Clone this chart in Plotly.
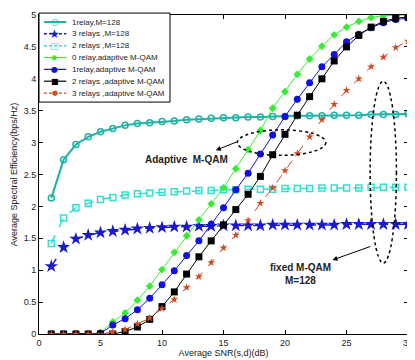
import plotly.graph_objects as go

snr = list(range(1, 31))

relay1_m128 = [2.13, 2.73, 2.97, 3.09, 3.17, 3.22, 3.27, 3.30, 3.31, 3.33, 3.34, 3.36, 3.37, 3.38, 3.39,
               3.39, 3.40, 3.40, 3.41, 3.41, 3.42, 3.42, 3.42, 3.43, 3.43, 3.43, 3.44, 3.44, 3.44, 3.45]
relay3_m128 = [1.06, 1.36, 1.49, 1.55, 1.59, 1.61, 1.63, 1.65, 1.66, 1.67, 1.68, 1.68, 1.69, 1.69, 1.70,
               1.70, 1.70, 1.70, 1.71, 1.71, 1.71, 1.71, 1.71, 1.71, 1.72, 1.72, 1.72, 1.72, 1.72, 1.72]
relay2_m128 = [1.42, 1.82, 1.98, 2.05, 2.11, 2.14, 2.18, 2.20, 2.21, 2.22, 2.23, 2.24, 2.25, 2.25, 2.26,
               2.26, 2.27, 2.27, 2.27, 2.28, 2.28, 2.28, 2.29, 2.29, 2.29, 2.29, 2.30, 2.30, 2.30, 2.30]
relay0_adapt = [0, 0, 0, 0, 0.02, 0.19, 0.33, 0.53, 0.75, 1.01, 1.28, 1.54, 1.79, 2.04, 2.29,
                2.59, 2.89, 3.19, 3.54, 3.80, 4.07, 4.31, 4.51, 4.69, 4.81, 4.90, 4.96, 4.99, 5.0, 5.0]
relay1_adapt = [0, 0, 0, 0, 0.01, 0.14, 0.24, 0.38, 0.56, 0.77, 0.99, 1.23, 1.46, 1.72, 1.98,
                2.26, 2.52, 2.82, 3.12, 3.41, 3.68, 3.94, 4.19, 4.38, 4.58, 4.70, 4.80, 4.88, 4.93, 4.95]
relay2_adapt = [0, 0, 0, 0, 0, 0.0, 0.04, 0.11, 0.23, 0.43, 0.66, 0.94, 1.21, 1.46, 1.71,
                1.95, 2.19, 2.47, 2.81, 3.13, 3.43, 3.72, 4.00, 4.28, 4.50, 4.68, 4.81, 4.90, 4.95, 4.97]
relay3_adapt = [0, 0, 0, 0, 0, 0.03, 0.07, 0.16, 0.25, 0.40, 0.54, 0.73, 0.90, 1.12, 1.35,
                1.55, 1.78, 2.05, 2.29, 2.56, 2.83, 3.09, 3.36, 3.60, 3.82, 4.00, 4.19, 4.34, 4.49, 4.59]

series_names = ["1relay,M=128", "3 relays ,M=128", "2 relays ,M=128", "0 relay,adaptive M-QAM",
                "1relay,adaptive M-QAM", "2 relays ,adaptive M-QAM", "3 relays ,adaptive M-QAM"]
series_values = [relay1_m128, relay3_m128, relay2_m128, relay0_adapt, relay1_adapt, relay2_adapt, relay3_adapt]

# styles: color, dash, marker symbol, marker size, line width, legend glyph
styles = [
    ("#1fb3a6", "solid", "circle-open", 6, 2, "○"),
    ("#1a1acc", "dash", "star", 10, 1.5, "★"),
    ("#33e0d0", "dash", "square-open", 6, 1.5, "□"),
    ("#33ee33", "solid", "diamond", 6, 1, "◆"),
    ("#1010e0", "solid", "circle", 7, 1, "●"),
    ("#000000", "solid", "square", 7, 1, "■"),
    ("#d04a22", "dash", "star", 6, 1, "●"),
]

fig = go.Figure()
for name, ys, (color, dash, sym, size, w, _) in zip(series_names, series_values, styles):
    fig.add_trace(go.Scatter(
        x=snr, y=ys, name=name, mode="lines+markers", showlegend=False,
        line=dict(color=color, dash=dash, width=w),
        marker=dict(symbol=sym, size=size, color=color,
                    line=dict(color=color, width=1.5 if "open" in sym else 0)),
    ))

axis_common = dict(showline=True, linecolor="black", linewidth=1, mirror="ticks",
                   ticks="inside", ticklen=4, tickcolor="black", showgrid=False,
                   zeroline=False, tickfont=dict(size=9, color="#222"),
                   ticklabeloverflow="allow")

fig.update_xaxes(range=[0, 30], dtick=5, tick0=0,
                 title=dict(text="Average SNR(s,d)(dB)", font=dict(size=9, color="#222"), standoff=1),
                 **axis_common)
fig.update_yaxes(range=[0, 5], dtick=0.5, tick0=0,
                 title=dict(text="Average Spectral Efficiency(bps/Hz)", font=dict(size=9, color="#222"), standoff=4),
                 **axis_common)

# annotation ellipses and arrows
fig.add_shape(type="circle", xref="x", yref="y", x0=16.12, x1=23.32, y0=2.80, y1=3.20,
              line=dict(color="black", dash="dot", width=1.5))
fig.add_shape(type="circle", xref="x", yref="y", x0=26.92, x1=29.06, y0=1.11, y1=3.96,
              line=dict(color="black", dash="dot", width=1.5))
fig.add_annotation(x=14.38, y=2.88, ax=16.2, ay=3.02, axref="x", ayref="y", xref="x", yref="y",
                   text="", showarrow=True, arrowhead=2, arrowsize=1, arrowwidth=1, arrowcolor="black")
fig.add_annotation(x=23.86, y=1.16, ax=27.06, ay=1.38, axref="x", ayref="y", xref="x", yref="y",
                   text="", showarrow=True, arrowhead=2, arrowsize=1, arrowwidth=1, arrowcolor="black")
fig.add_annotation(x=12.0, y=2.73, text="<b>Adaptive  M-QAM</b>", showarrow=False,
                   font=dict(size=10, color="#222"))
fig.add_annotation(x=21.3, y=1.04, text="<b>fixed M-QAM</b>", showarrow=False,
                   font=dict(size=10, color="#222"))
fig.add_annotation(x=21.3, y=0.84, text="<b>M=128</b>", showarrow=False,
                   font=dict(size=10, color="#222"))

# custom compact legend (paper coordinates)
fig.add_shape(type="rect", xref="paper", yref="paper", x0=0.0, x1=0.355, y0=0.727, y1=1.006,
              line=dict(color="black", width=1), fillcolor="white", layer="above")
row0, step = 0.978, 0.0371
for i, (name, (color, dash, sym, size, w, glyph)) in enumerate(zip(series_names, styles)):
    yy = row0 - i * step
    fig.add_shape(type="line", xref="paper", yref="paper", x0=0.0134, x1=0.074, y0=yy, y1=yy,
                  line=dict(color=color, dash=dash if dash != "dash" else "3px,2px",
                            width=max(w, 1.2)), layer="above")
    gsize = {"○": 9, "★": 12, "□": 9, "◆": 8, "●": 8, "■": 8}.get(glyph, 8)
    if i == 6:
        gsize = 7
    fig.add_annotation(x=0.0427, y=yy, xref="paper", yref="paper", text=glyph, showarrow=False,
                       font=dict(size=gsize, color=color, family="DejaVu Sans"),
                       xanchor="center", yanchor="middle")
    fig.add_annotation(x=0.0846, y=yy, xref="paper", yref="paper", text=name, showarrow=False,
                       font=dict(size=8, color="#222"), xanchor="left", yanchor="middle")

fig.update_layout(
    width=407, height=352,
    margin=dict(l=31, r=2, t=4, b=26),
    paper_bgcolor="white", plot_bgcolor="white",
    font=dict(family="Liberation Sans, Arial, sans-serif", size=9, color="#222"),
    showlegend=False,
)

fig.write_html("out.html")
